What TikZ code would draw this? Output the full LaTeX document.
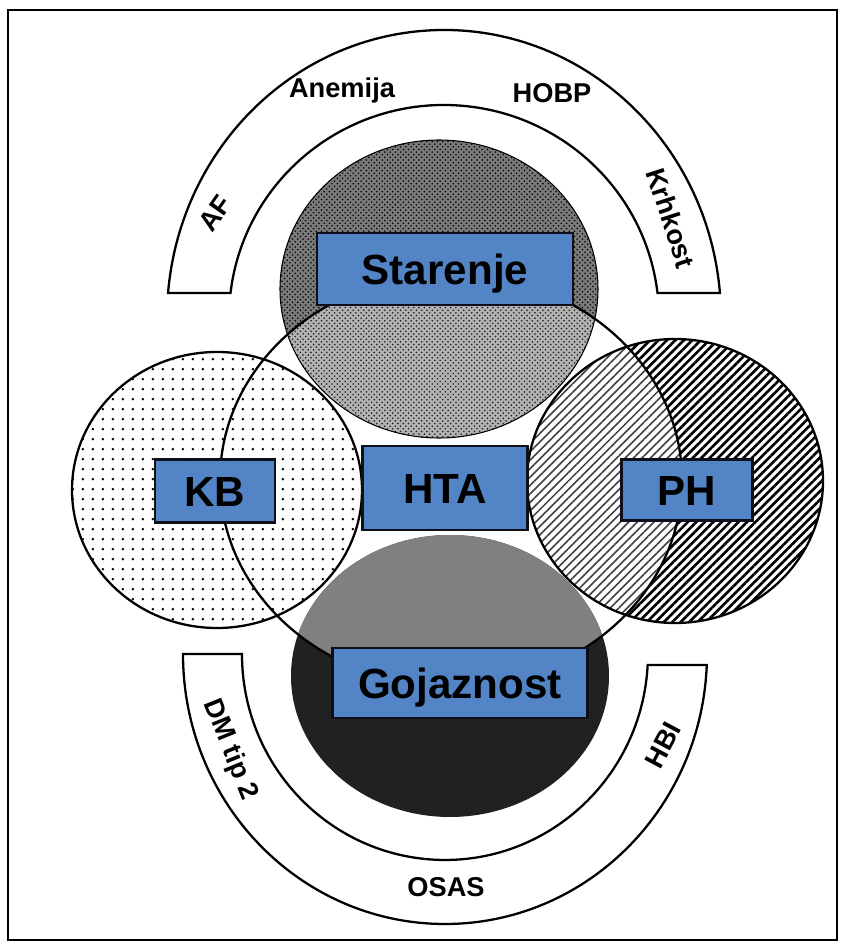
\documentclass[tikz,border=0pt]{standalone}
\usepackage{fontspec}
\setmainfont{Liberation Sans}
\usetikzlibrary{patterns,patterns.meta}
\definecolor{boxblue}{RGB}{82,132,198}
\definecolor{boxrim}{RGB}{15,15,25}

\tikzdeclarepattern{
  name=kbspots,
  type=uncolored,
  bottom left={(0pt,0pt)},
  top right={(5.6pt,5.6pt)},
  tile size={(5.6pt,5.6pt)},
  code={\pgfpathcircle{\pgfqpoint{2.8pt}{2.8pt}}{0.8pt}\pgfusepath{fill}}
}

\begin{document}
\begin{tikzpicture}[x=0.02cm, y=0.02cm,
    band/.style={draw, line width=1.3pt, fill=white},
    rim/.style={draw, line width=1.3pt},
    box/.style={draw=boxrim, line width=1.6pt, fill=boxblue, inner sep=0pt, text height=17.2pt, text depth=0pt, font=\bfseries\fontsize{24}{28}\selectfont},
    tag/.style={inner sep=0pt, font=\bfseries\fontsize{15.5}{18}\selectfont},
    agedark/.style={preaction={fill=black!52}, pattern=crosshatch dots, pattern color=black},
    agelight/.style={preaction={fill=black!30}, pattern=crosshatch dots, pattern color=black!90},
    hatchdark/.style={pattern={Lines[angle=45,distance=3.4pt,line width=1.5pt]}, pattern color=black},
    hatchlight/.style={preaction={fill=white}, pattern={Lines[angle=45,distance=3.4pt,line width=0.9pt]}, pattern color=black!75},
    spots/.style={pattern=kbspots, pattern color=black}
]
\useasboundingbox (0,0) rectangle (845,948);
\draw[line width=1.1pt] (8,8) rectangle (837,938);

\coordinate (htac) at (451,468);
\coordinate (starc) at (439,659);
\coordinate (kbc) at (217,458);
\coordinate (phc) at (675,467);
\coordinate (gojc) at (450,272);
\coordinate (topc) at (444,630);
\coordinate (botc) at (445,294);

% outer bands
\draw[band] (topc) ++(4.98:277 and 288) arc[start angle=4.98, end angle=175.02, x radius=277, y radius=288]
  -- ++(62.45,0) arc[start angle=173.26, end angle=6.74, x radius=215, y radius=213] -- cycle;
\draw[band] (botc) ++(180:262 and 270) arc[start angle=180, end angle=357.67, x radius=262, y radius=270]
  -- ++(-59.1,0) arc[start angle=356.94, end angle=180, x radius=203, y radius=206] -- cycle;

% circles
\path[agedark] (starc) ellipse [x radius=159, y radius=149];
\path[spots] (kbc) ellipse [x radius=145, y radius=138];
\path[hatchdark] (phc) ellipse [x radius=148, y radius=142];
\fill[black!87] (gojc) ellipse [x radius=159, y radius=141];
\begin{scope}
  \clip (htac) ellipse [x radius=231, y radius=206];
  \path[agelight] (starc) ellipse [x radius=159, y radius=149];
  \path[hatchlight] (phc) ellipse [x radius=148, y radius=142];
  \fill[black!50] (gojc) ellipse [x radius=159, y radius=141];
\end{scope}
\draw[line width=0.6pt] (starc) ellipse [x radius=159, y radius=149];
\draw[rim] (kbc) ellipse [x radius=145, y radius=138];
\draw[rim] (phc) ellipse [x radius=148, y radius=142];
\draw[rim] (htac) ellipse [x radius=231, y radius=206];

\node[box, minimum width=5.12cm, minimum height=1.44cm] (starenje) at (445,679) {Starenje};
\node[box, minimum width=2.4cm, minimum height=1.26cm] (kb) at (215,457) {KB};
\node[box, minimum width=3.3cm, minimum height=1.68cm] (hta) at (445,460) {HTA};
\node[box, minimum width=2.62cm, minimum height=1.22cm] (ph) at (687,458) {PH};
\node[box, minimum width=5.1cm, minimum height=1.4cm] (gojaznost) at (460,265) {Gojaznost};

\node[tag] (anemija) at (342,858) {Anemija};
\node[tag] (hobp) at (552,855) {HOBP};
\node[tag, rotate=55] (af) at (215,735) {AF};
\node[tag, rotate=-72] (krhkost) at (671,730) {Krhkost};
\node[tag, rotate=-68] (dmtip) at (230,198) {DM tip 2};
\node[tag, rotate=62] (hbi) at (663,203) {HBI};
\node[tag] (osas) at (446,61) {OSAS};
\end{tikzpicture}
\end{document}
